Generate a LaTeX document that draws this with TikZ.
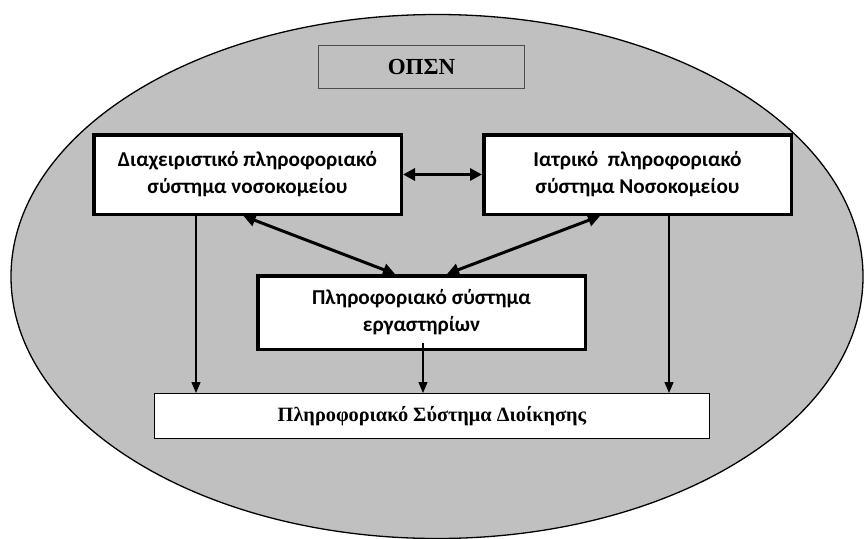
\documentclass[tikz,border=0pt]{standalone}
\usepackage{fontspec}
\setmainfont{Liberation Serif}[BoldFont={Liberation Serif Bold}]
\newfontfamily\calibri{Carlito}[BoldFont={Carlito Bold}]
\usepackage{tikz}
\usetikzlibrary{arrows.meta}
\definecolor{ovalgray}{RGB}{192,192,192}

\begin{document}
\begin{tikzpicture}[x=1pt,y=-1pt,>={Triangle[length=11pt,width=9pt]},line width=1.3pt,
	sys/.style={draw,fill=white,line width=3.5pt,align=center,
		font=\calibri\bfseries\fontsize{21.2}{27}\selectfont},
	big/.style={<->,>={Triangle[length=12pt,width=12pt]},line width=3pt}]
			\useasboundingbox (0,0) rectangle (864,538);
			\draw[fill=ovalgray] (437,276.5) ellipse [x radius=426, y radius=262];
			\node[draw=black!70,line width=0.8pt,minimum width=206pt,minimum height=43pt,
				font=\bfseries\fontsize{23}{27}\selectfont] (opsn) at (421.5,67) {ΟΠΣΝ};
			\node[sys, minimum width=307.5pt, minimum height=79.5pt] (dioik) at (247.5,174.5)
				{Διαχειριστικό πληροφοριακό\\σύστημα νοσοκομείου};
			\node[sys, minimum width=307.5pt, minimum height=79.5pt] (iatr) at (637.5,174.5)
				{Ιατρικό \ πληροφοριακό\\σύστημα Νοσοκομείου};
			\node[sys, minimum width=327.5pt, minimum height=73.5pt] (erg) at (421.5,312.5)
				{Πληροφοριακό σύστημα\\εργαστηρίων};
			\node[draw,fill=white,minimum width=554.7pt,minimum height=44.7pt,
				font=\bfseries\fontsize{20.3}{24}\selectfont] (psd) at (432,416)
				{Πληροφοριακό Σύστημα Διοίκησης};
			\draw[big] (dioik.east) -- (iatr.west);
			\draw[big] ([xshift=-4pt]dioik.south) -- ([xshift=-26.5pt]erg.north);
			\draw[big] ([xshift=-37.5pt]iatr.south) -- ([xshift=25.5pt]erg.north);
			\draw[->] ([xshift=-51.5pt]dioik.south) -- ([xshift=-236pt]psd.north);
			\draw[->] ([xshift=31.5pt]iatr.south) -- ([xshift=237pt]psd.north);
			\draw[->] ([xshift=1.5pt,yshift=8pt]erg.south) -- ([xshift=-9pt]psd.north);
		\end{tikzpicture}
\end{document}
